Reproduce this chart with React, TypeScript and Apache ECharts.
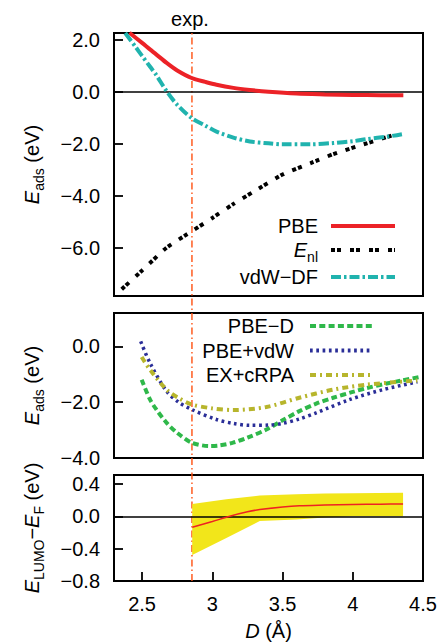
import React, { useEffect, useRef } from 'react';
import * as echarts from 'echarts';

const FONT = '"Liberation Sans", Arial, Helvetica, sans-serif';

// experimental distance (Å)
const expD = 2.855;

// Panel 1: adsorption energies (eV)
const pbeD = [2.41, 2.5, 2.556, 2.6, 2.675, 2.75, 2.853, 2.95, 3.03, 3.15, 3.267, 3.4, 3.6, 3.8, 4.0, 4.2, 4.36];
const pbeE = [2.27, 1.88, 1.63, 1.44, 1.11, 0.82, 0.53, 0.38, 0.27, 0.15, 0.07, 0.0, -0.07, -0.1, -0.12, -0.13, -0.13];

const enlD = [2.355, 2.5, 2.675, 2.857, 3.0, 3.148, 3.3, 3.504, 3.7, 3.86, 4.1, 4.334];
const enlE = [-7.59, -6.87, -5.99, -5.35, -4.85, -4.32, -3.82, -3.17, -2.74, -2.4, -1.98, -1.59];

const vdwD = [2.38, 2.45, 2.5, 2.556, 2.6, 2.675, 2.75, 2.853, 2.95, 3.03, 3.15, 3.267, 3.4, 3.5, 3.7, 3.86, 4.0, 4.1, 4.25, 4.35];
const vdwE = [2.26, 1.75, 1.38, 0.97, 0.65, 0.02, -0.5, -1.01, -1.3, -1.53, -1.76, -1.91, -1.98, -2.02, -2.02, -1.97, -1.9, -1.82, -1.72, -1.63];

// Panel 2
const pbedD = [2.497, 2.556, 2.6, 2.675, 2.75, 2.853, 2.98, 3.05, 3.148, 3.25, 3.385, 3.5, 3.62, 3.74, 3.86, 4.0, 4.1, 4.25, 4.35, 4.48];
const pbedE = [-1.19, -1.9, -2.25, -2.74, -3.1, -3.45, -3.57, -3.55, -3.45, -3.27, -2.98, -2.65, -2.32, -2.05, -1.84, -1.63, -1.49, -1.32, -1.22, -1.09];

const pvdwD = [2.49, 2.556, 2.675, 2.76, 2.853, 3.03, 3.15, 3.267, 3.4, 3.5, 3.62, 3.74, 3.98, 4.215, 4.46];
const pvdwE = [0.18, -0.59, -1.61, -2.0, -2.26, -2.62, -2.76, -2.83, -2.82, -2.76, -2.6, -2.38, -1.9, -1.55, -1.27];

const rpaD = [2.497, 2.556, 2.675, 2.76, 2.853, 3.0, 3.148, 3.385, 3.62, 3.86, 4.1, 4.46];
const rpaE = [-0.38, -0.83, -1.55, -1.85, -2.08, -2.22, -2.28, -2.17, -1.84, -1.55, -1.37, -1.22];

// Panel 3: E_LUMO - E_F (eV)
const lumoD = [2.857, 3.0, 3.124, 3.25, 3.338, 3.5, 3.62, 3.8, 4.0, 4.2, 4.358];
const lumoE = [-0.136, -0.065, 0.0, 0.055, 0.083, 0.115, 0.13, 0.138, 0.145, 0.15, 0.153];

const bandD = [2.857, 3.1, 3.338, 3.6, 3.8, 4.0, 4.358];
const bandHi = [0.153, 0.21, 0.256, 0.272, 0.28, 0.285, 0.29];
const bandLo = [-0.478, -0.27, -0.06, -0.04, -0.015, 0.0, 0.0];

// tick labels
const xTicks = [2.5, 3, 3.5, 4, 4.5];
const y1Ticks = [-6, -4, -2, 0, 2];
const y2Ticks = [-4, -2, 0];
const y3Ticks = [-0.8, -0.4, 0, 0.4];

const X_MIN = 2.3;
const X_MAX = 4.5;

const zip = (a: number[], b: number[]) => a.map((v, i) => [v, b[i]]);
const fmt = (v: number) => (v < 0 ? '\u2212' : '') + Math.abs(v).toFixed(1);

const rich = {
  i: { fontStyle: 'italic', fontSize: 20, fontFamily: FONT, color: '#000' },
  s: { fontSize: 14, fontFamily: FONT, color: '#000', padding: [14, 0, 0, 0] },
};

function yAx(grid: number, min: number, max: number, ticks: number[], name: string) {
  return {
    type: 'value', gridIndex: grid, min, max, position: 'left',
    axisLine: { show: false, onZero: false }, splitLine: { show: false },
    axisTick: { show: true, inside: true, length: 9, customValues: ticks, lineStyle: { color: '#000', width: 1.8 } },
    axisLabel: { show: true, customValues: ticks, formatter: fmt, fontSize: 20, color: '#000', fontFamily: FONT, margin: 14 },
    name, nameLocation: 'middle', nameGap: 68, nameRotate: 90,
    nameTextStyle: { fontSize: 20, fontFamily: FONT, color: '#000', rich },
  };
}

function xAx(grid: number, shown: boolean) {
  return {
    type: 'value', gridIndex: grid, min: X_MIN, max: X_MAX, position: 'bottom',
    axisLine: { show: false, onZero: false }, splitLine: { show: false },
    axisTick: { show: shown, inside: true, length: 9, customValues: xTicks, lineStyle: { color: '#000', width: 1.8 } },
    axisLabel: { show: shown, customValues: xTicks, formatter: (v: number) => String(v), fontSize: 20, color: '#000', fontFamily: FONT, margin: 13 },
    name: shown ? '{i|D} (Å)' : '', nameLocation: 'middle', nameGap: 40,
    nameTextStyle: { fontSize: 20, fontFamily: FONT, color: '#000', rich },
  };
}

const zeroLine = {
  silent: true, symbol: 'none', z: 3,
  label: { show: false },
  lineStyle: { color: '#000', type: 'solid', width: 1.5 },
  data: [{ yAxis: 0 }],
};

function line(name: string, xi: number, d: number[], e: number[], color: string, width: number, type: any, extra: any = {}) {
  return {
    name, type: 'line', xAxisIndex: xi, yAxisIndex: xi,
    data: zip(d, e), symbol: 'none', smooth: 0.3,
    lineStyle: { color, width, type, cap: 'butt' }, itemStyle: { color },
    z: 4, silent: true, ...extra,
  };
}

export default function App() {
  const ref = useRef<HTMLDivElement>(null);
  useEffect(() => {
    if (!ref.current) return;
    const chart = echarts.init(ref.current, undefined, { renderer: 'svg' });
    const gridBase = { left: 114, right: 19, show: true, borderColor: '#000', borderWidth: 2, backgroundColor: 'transparent' };
    chart.setOption({
      animation: false,
      backgroundColor: '#fff',
      textStyle: { fontFamily: FONT },
      grid: [
        { ...gridBase, top: 33, height: 263 },
        { ...gridBase, top: 313, height: 145 },
        { ...gridBase, top: 475, height: 106 },
        { left: 114, right: 19, top: 33, height: 548, show: false },
      ],
      xAxis: [xAx(0, false), xAx(1, false), xAx(2, true),
        { type: 'value', gridIndex: 3, min: X_MIN, max: X_MAX, show: false }],
      yAxis: [
        yAx(0, -7.85, 2.26, y1Ticks, '{i|E}{s|ads} (eV)'),
        yAx(1, -4, 1.2, y2Ticks, '{i|E}{s|ads} (eV)'),
        yAx(2, -0.8, 0.51, y3Ticks, '{i|E}{s|LUMO}\u2212{i|E}{s|F} (eV)'),
        { type: 'value', gridIndex: 3, min: 0, max: 1, show: false },
      ],
      legend: [
        {
          data: ['PBE', 'Enl', 'vdW-DF'], orient: 'vertical', align: 'right', right: 45, top: 215,
          padding: 0, itemWidth: 64, itemHeight: 14, itemGap: 2, selectedMode: false,
          itemStyle: { opacity: 0 }, lineStyle: { width: 4 },
          formatter: (n: string) => (n === 'Enl' ? '{i|E}{s|nl}' : n === 'vdW-DF' ? 'vdW\u2212DF' : n),
          textStyle: { fontSize: 20, fontFamily: FONT, color: '#000', padding: [0, 8, 0, 0], lineHeight: 22, rich },
        },
        {
          data: ['PBE-D', 'PBE+vdW', 'EX+cRPA'], orient: 'vertical', align: 'right', right: 67, top: 315,
          padding: 0, itemWidth: 63, itemHeight: 14, itemGap: 2.5, selectedMode: false,
          itemStyle: { opacity: 0 }, lineStyle: { width: 4 },
          formatter: (n: string) => (n === 'PBE-D' ? 'PBE\u2212D' : n),
          textStyle: { fontSize: 20, fontFamily: FONT, color: '#000', padding: [0, 11, 0, 0], lineHeight: 22, rich },
        },
      ],
      graphic: [
        { type: 'text', x: 190, y: 19, style: { text: 'exp.', fontSize: 20, fontFamily: FONT, fill: '#000', align: 'center', verticalAlign: 'middle' } },
      ],
      series: [
        {
          name: 'exp', type: 'line', xAxisIndex: 3, yAxisIndex: 3, data: [[expD, 0], [expD, 1]],
          symbol: 'none', silent: true, z: 1,
          lineStyle: { color: '#ff5010', width: 1.4, type: [7, 3, 1.5, 3] },
        },
        line('PBE', 0, pbeD, pbeE, '#ec2227', 4, 'solid', { markLine: zeroLine }),
        line('Enl', 0, enlD, enlE, '#000000', 4, [4, 2, 4, 9], { smooth: 0.2 }),
        line('vdW-DF', 0, vdwD, vdwE, '#20b3ae', 4, [10, 3, 2.5, 3]),
        line('PBE-D', 1, pbedD, pbedE, '#2fb84a', 4, [6, 3.3]),
        line('PBE+vdW', 1, pvdwD, pvdwE, '#2a2e98', 3.5, [2.7, 3.6]),
        line('EX+cRPA', 1, rpaD, rpaE, '#b7b52c', 4, [6, 4, 2, 4]),
        {
          name: 'band', type: 'custom', xAxisIndex: 2, yAxisIndex: 2, silent: true, z: 2,
          data: bandD.map((d, i) => [d, bandLo[i], bandHi[i]]),
          encode: { x: 0, y: [1, 2] },
          renderItem: (params: any, api: any) => {
            if (params.dataIndex !== 0) return null;
            const pts: number[][] = [];
            for (let i = 0; i < bandD.length; i++) pts.push(api.coord([bandD[i], bandHi[i]]));
            for (let i = bandD.length - 1; i >= 0; i--) pts.push(api.coord([bandD[i], bandLo[i]]));
            return { type: 'polygon', shape: { points: pts }, style: { fill: '#f2e61a', stroke: 'none' } };
          },
        },
        line('lumo', 2, lumoD, lumoE, '#ee2222', 1.5, 'solid', { markLine: zeroLine, z: 5 }),
      ],
    });
    return () => chart.dispose();
  }, []);
  return <div ref={ref} style={{ width: 442, height: 643, position: 'absolute', left: 0, top: 0 }} />;
}
